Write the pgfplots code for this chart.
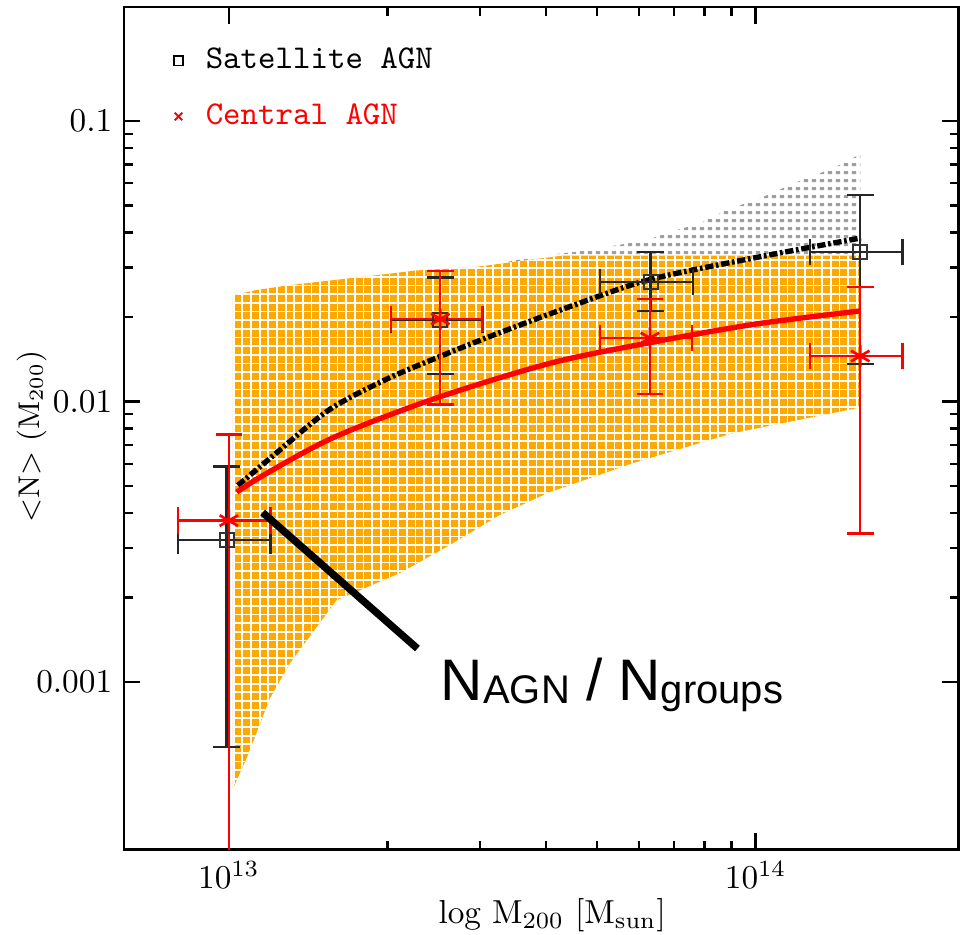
\documentclass[border=0pt]{standalone}
\usepackage{fontspec}
\newfontfamily\annfont{Liberation Sans}
\usepackage{pgfplots}
\pgfplotsset{compat=1.18}
\usetikzlibrary{patterns}

\definecolor{agnorange}{RGB}{255,168,0}

% orange squares separated by thin white lines
\pgfdeclarepatternformonly{finegrid}{\pgfqpoint{-0.5pt}{-0.5pt}}{\pgfqpoint{3pt}{3pt}}{\pgfqpoint{2.6pt}{2.6pt}}{%
  \pgfsetlinewidth{0.55pt}%
  \pgfpathmoveto{\pgfqpoint{0pt}{-0.5pt}}\pgfpathlineto{\pgfqpoint{0pt}{3pt}}%
  \pgfpathmoveto{\pgfqpoint{-0.5pt}{0pt}}\pgfpathlineto{\pgfqpoint{3pt}{0pt}}%
  \pgfusepath{stroke}}
% small grey dashes in rows
\pgfdeclarepatternformonly{greydash}{\pgfqpoint{0pt}{0pt}}{\pgfqpoint{2.3pt}{2.3pt}}{\pgfqpoint{2.3pt}{2.3pt}}{%
  \pgfpathrectangle{\pgfqpoint{0.3pt}{0.6pt}}{\pgfqpoint{1.3pt}{0.9pt}}%
  \pgfusepath{fill}}

\begin{document}
\begin{tikzpicture}
\begin{axis}[
  scale only axis,
  width=250.8pt, height=253.2pt,
  xmode=log, ymode=log,
  xmin=6.32e12, xmax=2.43e14,
  ymin=2.52e-4, ymax=0.255,
  xtick={1e13,1e14},
  ytick={0.001,0.01,0.1},
  yticklabels={0.001,0.01,0.1},
  axis line style={line width=0.8pt},
  every tick/.style={black, line width=0.7pt},
  major tick length=5pt, minor tick length=2.7pt,
  xlabel={log M\textsubscript{200} [M\textsubscript{sun}]},
  ylabel={\textless N\textgreater{} (M\textsubscript{200})},
  xlabel style={at={(axis description cs:0.513,-0.088)}, anchor=base},
  ylabel style={at={(axis description cs:-0.11,0.49)}, anchor=center, font=\small},
  legend style={at={(axis description cs:0.047,0.968)}, anchor=north west,
    draw=none, fill=none, font=\ttfamily, row sep=5pt, column sep=4.8pt},
  legend cell align=left,
  legend image code/.code={\draw[mark repeat=2,mark phase=2,#1] plot coordinates {(0cm,0cm) (0.15cm,0cm) (0.3cm,0cm)};},
]
\addlegendimage{only marks, mark=square, mark size=1.4pt, black, line width=0.5pt}
\addlegendentry{Satellite AGN}
\addlegendimage{only marks, mark=x, mark size=1.6pt, red, line width=0.6pt}
\addlegendentry{\textcolor{red}{Central AGN}}

% satellite model band (grey)
\addplot[draw=none, pattern=greydash, pattern color=gray!75, forget plot] coordinates {
  (1.288e13,0.01791) (1.554e13,0.02077) (2.108e13,0.02446) (2.738e13,0.02813)
  (3.405e13,0.03155) (3.933e13,0.03315) (4.62e13,0.03426) (6.19e13,0.0375)
  (6.75e13,0.0397) (7.90e13,0.04346) (8.77e13,0.04797) (1.027e14,0.05337)
  (1.191e14,0.06035) (1.334e14,0.06552) (1.481e14,0.07112) (1.581e14,0.07655)
  (1.581e14,0.0179) (4.6e13,0.0127) (1.288e13,0.0127)
} -- cycle;

% central model band (orange)
\addplot[draw=none, fill=agnorange, postaction={pattern=finegrid, pattern color=white}, forget plot] coordinates {
  (1.018e13,0.02388) (1.12e13,0.0249) (1.294e13,0.02594) (1.824e13,0.02793)
  (2.27e13,0.02931) (2.986e13,0.03028) (4.30e13,0.03312) (1.58e14,0.0331)
  (1.58e14,9.52e-3) (9.01e13,7.69e-3) (5.82e13,6.01e-3) (4.055e13,4.74e-3)
  (3.26e13,3.93e-3) (2.622e13,3.07e-3) (2.109e13,2.44e-3) (1.601e13,1.955e-3)
  (1.305e13,1.164e-3) (1.196e13,8.73e-4) (1.082e13,5.38e-4) (1.018e13,4.17e-4)
} -- cycle;

% satellite model
\addplot[black, line width=1.6pt, smooth, dash pattern=on 2.5pt off 0.8pt on 0.8pt off 0.8pt, forget plot] coordinates {
  (1.04e13,5.02e-3) (1.202e13,6.31e-3) (1.549e13,9.33e-3) (1.995e13,0.01202)
  (2.512e13,0.01445) (3.162e13,0.01718) (4.467e13,0.02188) (6.31e13,0.02723)
  (1.0e14,0.03258) (1.585e14,0.03828)
};
% central model
\addplot[red, line width=1.6pt, smooth, forget plot] coordinates {
  (1.035e13,4.75e-3) (1.175e13,5.52e-3) (1.585e13,7.46e-3) (2.455e13,0.01023)
  (4.07e13,0.01368) (6.31e13,0.01622) (1.0e14,0.01888) (1.585e14,0.02104)
};

% satellite AGN measurements
\addplot[only marks, mark=square, mark size=2.1pt, black!80, line width=0.6pt, forget plot,
  error bars/.cd, x dir=both, x explicit, y dir=both, y explicit,
  error bar style={line width=0.7pt, black!85},
  error mark options={rotate=90, mark size=4pt, line width=0.7pt, black!85}]
coordinates {
  (0.99e13,3.2e-3)  += (2.1e12,2.66e-3)  -= (1.9e12,2.613e-3)
  (2.52e13,0.0195)  += (0.51e13,0.0082)  -= (0.49e13,0.00696)
  (6.32e13,0.0267)  += (1.28e13,0.0074)  -= (1.25e13,0.0057)
  (1.58e14,0.0341)  += (3.2e13,0.0204)   -= (3.1e13,0.0205)
};

% central AGN measurements
\addplot[only marks, mark=asterisk, mark size=3.2pt, red, line width=0.8pt, forget plot,
  error bars/.cd, x dir=both, x explicit, y dir=both, y explicit,
  error bar style={line width=0.7pt, red},
  error mark options={rotate=90, mark size=4pt, line width=0.7pt, red}]
coordinates {
  (1.0e13,3.76e-3)  += (2.0e12,3.87e-3)  -= (2.0e12,3.66e-3)
  (2.52e13,0.01968) += (0.51e13,0.00952) -= (0.49e13,0.00992)
  (6.3e13,0.01683)  += (1.27e13,0.00637) -= (1.23e13,0.00619)
  (1.58e14,0.01452) += (3.2e13,0.01107)  -= (3.1e13,0.01114)
};

% annotation
\draw[line width=2.2pt] (axis cs:1.159e13,4.02e-3) -- (axis cs:2.28e13,1.315e-3);
\node[anchor=base west, inner sep=0pt] at (axis cs:2.52e13,8.59e-4)
  {\annfont\fontsize{17.6}{20}\selectfont N\raisebox{-1pt}{\fontsize{12}{14}\selectfont AGN} / N\raisebox{-1pt}{\fontsize{12}{14}\selectfont groups}};
\end{axis}
\pgfresetboundingbox
\path[use as bounding box] ([xshift=-37.2pt,yshift=-25.5pt]current axis.south west) rectangle ([xshift=0.4pt,yshift=2.1pt]current axis.north east);
\end{tikzpicture}
\end{document}
